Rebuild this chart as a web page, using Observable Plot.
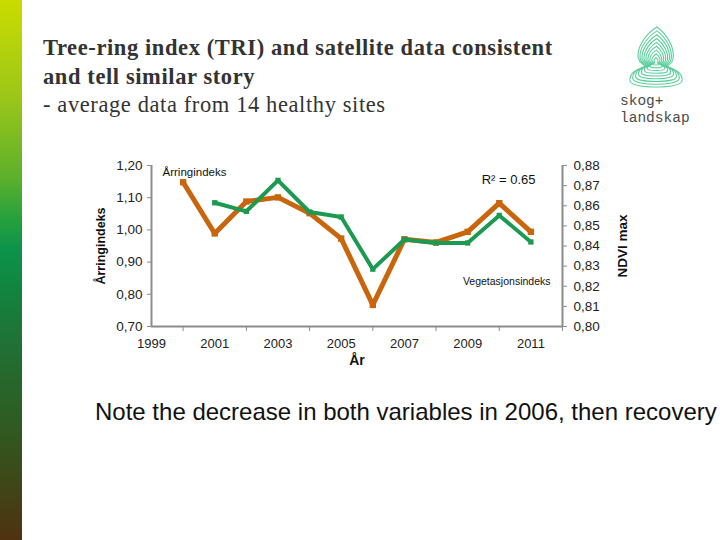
<!DOCTYPE html>
<html>
<head>
<meta charset="utf-8">
<script src="https://cdn.jsdelivr.net/npm/d3@7"></script>
<script src="https://cdn.jsdelivr.net/npm/@observablehq/plot@0.6"></script>
<style>
  html, body { margin: 0; padding: 0; background: #fff; }
  #page { position: relative; width: 720px; height: 540px; overflow: hidden; background: #fff; }
  #strip { position: absolute; left: 0; top: 0; width: 22px; height: 540px;
    background: linear-gradient(to bottom, #cadc00 0%, #9cc618 18%, #5cb02c 33%, #2aa23c 40%, #0c934a 46%, #12843f 54%, #217035 64%, #2c5f24 76%, #3c4a18 88%, #4f3210 100%); }
  #title { position: absolute; left: 43px; top: 34px; font-family: "Liberation Serif", "Times New Roman", serif;
    font-size: 22.5px; line-height: 28.5px; letter-spacing: 0.6px; color: #333; white-space: nowrap; }
  #title b { font-weight: bold; }
  #chart { position: absolute; left: 0; top: 150px; }
  #note { position: absolute; left: 95px; top: 398px; font-family: "Liberation Sans", Arial, sans-serif;
    font-size: 24px; color: #111; white-space: nowrap; }
  #logo { position: absolute; left: 600px; top: 20px; }
</style>
</head>
<body>
<div id="page">
  <div id="strip"></div>
  <div id="title"><b>Tree-ring index (TRI) and satellite data consistent<br>and tell similar story</b><br>- average data from 14 healthy sites</div>
  <svg id="logo" width="120" height="115" viewBox="600 20 120 115"></svg>
  <div id="chart"></div>
  <div id="note">Note the decrease in both variables in 2006, then recovery</div>
</div>
<script>
// ---- data ----
const triYears = [2000, 2001, 2002, 2003, 2004, 2005, 2006, 2007, 2008, 2009, 2010, 2011];
const triValues = [1.148, 0.989, 1.088, 1.101, 1.052, 0.973, 0.767, 0.971, 0.961, 0.994, 1.083, 0.994];
const ndviYears = [2001, 2002, 2003, 2004, 2005, 2006, 2007, 2008, 2009, 2010, 2011];
const ndviValues = [0.8615, 0.8572, 0.8726, 0.8569, 0.8544, 0.8285, 0.8432, 0.8415, 0.8415, 0.8552, 0.8420];
const leftTicks = [0.70, 0.80, 0.90, 1.00, 1.10, 1.20];
const rightTicks = [0.80, 0.81, 0.82, 0.83, 0.84, 0.85, 0.86, 0.87, 0.88];
const xLabelYears = [1999, 2001, 2003, 2005, 2007, 2009, 2011];
const xTickYears = [2000, 2002, 2004, 2006, 2008, 2010, 2012];
const xDomain = [1999, 2012];
const leftDomain = [0.70, 1.20];
const rightDomain = [0.80, 0.88];

// map NDVI onto the left scale
const toLeft = v => leftDomain[0] + (v - rightDomain[0]) / (rightDomain[1] - rightDomain[0]) * (leftDomain[1] - leftDomain[0]);
const fmt = d => d.toFixed(2).replace(".", ",");

const tri = triYears.map((y, i) => ({year: y, value: triValues[i]}));
const ndvi = ndviYears.map((y, i) => ({year: y, value: ndviValues[i], mapped: toLeft(ndviValues[i])}));
const rightTickMap = new Map(rightTicks.map(t => [toLeft(t).toFixed(6), t]));

const orange = "#c9660d";
const green = "#1d9a52";
const axisGray = "#8c8c8c";

const chart = Plot.plot({
  width: 720,
  height: 230,
  marginLeft: 151,
  marginRight: 158,
  marginTop: 15,
  marginBottom: 54,
  style: {fontFamily: "'Liberation Sans', Arial, sans-serif", fontSize: "13px", color: "#222", background: "transparent", overflow: "visible"},
  x: {domain: xDomain},
  y: {domain: leftDomain},
  marks: [
    Plot.axisY({ticks: leftTicks, tickFormat: fmt, tickSize: 4, tickPadding: 5, stroke: axisGray, fill: "#222", label: null, fontSize: 13.5}),
    Plot.axisY({anchor: "right", ticks: rightTicks.map(toLeft), tickFormat: d => fmt(rightTickMap.get(d.toFixed(6))), tickSize: 4, tickPadding: 7, stroke: axisGray, fill: "#222", label: null, fontSize: 13.5}),
    Plot.axisX({ticks: xTickYears, tickFormat: () => "", tickSize: 5, stroke: axisGray, label: null}),
    Plot.axisX({ticks: xLabelYears, tickFormat: d => String(d), tickSize: 0, tickPadding: 12, fill: "#222", label: null, fontSize: 13}),
    Plot.ruleY([leftDomain[0]], {stroke: axisGray, strokeWidth: 2}),
    Plot.ruleX([xDomain[0], xDomain[1]], {stroke: axisGray, strokeWidth: 2}),
    Plot.line(tri, {x: "year", y: "value", stroke: orange, strokeWidth: 5, strokeLinejoin: "miter"}),
    Plot.dot(tri, {x: "year", y: "value", symbol: "square", r: 3.6, fill: orange, stroke: "none"}),
    Plot.line(ndvi, {x: "year", y: "mapped", stroke: green, strokeWidth: 4, strokeLinejoin: "miter"}),
    Plot.dot(ndvi, {x: "year", y: "mapped", symbol: "square", r: 3, fill: green, stroke: "none"}),
    Plot.text(["Årringindeks"], {frameAnchor: "top-left", textAnchor: "start", dx: 11, dy: 2, fontSize: 11.5, fill: "#111"}),
    Plot.text(["R² = 0.65"], {frameAnchor: "top-right", textAnchor: "end", dx: -27, dy: 9, fontSize: 13, fill: "#111"}),
    Plot.text(["Vegetasjonsindeks"], {frameAnchor: "bottom-right", textAnchor: "end", dx: -12, dy: -42, fontSize: 10.5, fill: "#111"}),
    Plot.text(["Årringindeks"], {frameAnchor: "left", textAnchor: "middle", dx: -51, rotate: -90, fontSize: 12.5, fontWeight: "bold", fill: "#111"}),
    Plot.text(["NDVI max"], {frameAnchor: "right", textAnchor: "middle", dx: 60, rotate: -90, fontSize: 13.5, fontWeight: "bold", fill: "#111"}),
    Plot.text(["År"], {frameAnchor: "bottom", dy: 38, fontSize: 14, fontWeight: "bold", fill: "#111"})
  ]
});
document.getElementById("chart").appendChild(chart);

// ---- logo (decorative) ----
const logo = d3.select("#logo");
const treePath = "M1,-31 C12,-23 19,-9 17,1 C16,6 12,8 8,9 C20,10 27,16 26,23 C25,31 -25,31 -26,23 C-27,16 -20,10 -8,9 C-13,7 -19,3 -18,-4 C-17,-14 -9,-25 1,-31 Z";
const g = logo.append("g").attr("transform", "translate(656,58)");
[1, 0.89, 0.78, 0.67, 0.56, 0.45, 0.34, 0.23, 0.12].forEach(s => {
  g.append("path").attr("d", treePath)
    .attr("transform", `translate(0,4) scale(${s}) translate(0,-4)`)
    .attr("fill", "none").attr("stroke", "#5ccf9c").attr("stroke-width", 1.1)
    .attr("vector-effect", "non-scaling-stroke");
});
logo.append("text").attr("x", 620).attr("y", 105).text("skog+")
  .attr("font-family", "'Liberation Mono', monospace").attr("font-size", 14.5).attr("fill", "#4a4a4a");
logo.append("text").attr("x", 620).attr("y", 122).text("landskap")
  .attr("font-family", "'Liberation Mono', monospace").attr("font-size", 14.5).attr("fill", "#4a4a4a");
</script>
</body>
</html>
